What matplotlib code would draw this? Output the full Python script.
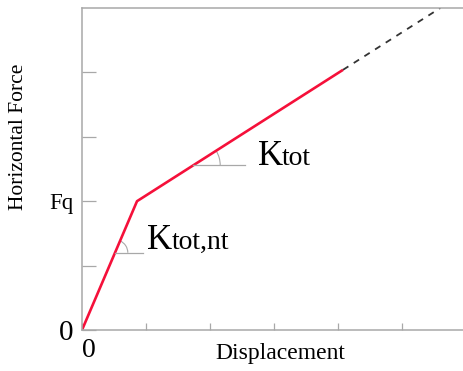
import matplotlib
matplotlib.use("Agg")
import matplotlib.pyplot as plt
from matplotlib.patches import Arc

# bilinear force-displacement curve
disp = [0.0, 0.86, 4.08]
force = [0.0, 2.0, 4.04]
disp_ext = [4.08, 5.6]
force_ext = [4.04, 5.0]

ytick_pos = [0, 1, 2, 3, 4]
ytick_labels = ["0", "", "Fq", "", ""]
xtick_pos = [0, 1, 2, 3, 4, 5]
xtick_labels = ["0", "", "", "", "", ""]

plt.rcParams['font.family'] = ['Liberation Serif', 'DejaVu Serif']

fig = plt.figure(figsize=(4.64, 3.71), dpi=100)
ax = fig.add_axes([0.1767, 0.1105, 0.8233, 0.868])

red = '#f5103a'
grey = '#a8a8a8'

ax.plot(disp, force, color=red, linewidth=1.9, solid_capstyle='butt')
ax.plot(disp_ext, force_ext, color='#333333', linewidth=1.3, linestyle=(0, (3.5, 3.5)))

# angle markers for the two stiffnesses
ax.plot([0.52, 0.95], [1.2, 1.2], color=grey, linewidth=0.9)
ax.add_patch(Arc((0.516, 1.2), 0.4, 0.4, theta1=0, theta2=67, color=grey, linewidth=0.8))
ax.plot([1.74, 2.55], [2.56, 2.56], color=grey, linewidth=0.9)
ax.add_patch(Arc((1.74, 2.56), 0.84, 0.84, theta1=0, theta2=32, color=grey, linewidth=0.8))

ax.text(1.02, 1.26, "K", fontsize=25, ha='left', va='baseline')
ax.annotate("tot,nt", xy=(1.02, 1.26), xytext=(17.5, 0), textcoords='offset points',
            fontsize=20, ha='left', va='baseline')
ax.text(2.75, 2.56, "K", fontsize=25, ha='left', va='baseline')
ax.annotate("tot", xy=(2.75, 2.56), xytext=(17.5, 0), textcoords='offset points',
            fontsize=20, ha='left', va='baseline')

ax.set_xlim(0, 5.97)
ax.set_ylim(0, 5.0)

ax.set_yticks(ytick_pos)
ax.set_yticklabels(ytick_labels)
ax.set_xticks(xtick_pos)
ax.set_xticklabels(xtick_labels)
ax.tick_params(axis='y', direction='in', length=10, width=0.9, color=grey, pad=6)
ax.tick_params(axis='x', direction='in', length=5, width=0.9, color=grey, pad=6)
for lab in ax.get_yticklabels():
    lab.set_fontsize(21 if lab.get_text() == "0" else 16.5)
for lab in ax.get_xticklabels():
    lab.set_fontsize(20)
    lab.set_horizontalalignment('left')

for side in ['left', 'bottom', 'top']:
    ax.spines[side].set_color(grey)
    ax.spines[side].set_linewidth(1.1)
ax.spines['right'].set_visible(False)

ax.set_ylabel("Horizontal Force", fontsize=15.5)
ax.yaxis.set_label_coords(-0.141, 0.60)
ax.set_xlabel("Displacement", fontsize=17)
ax.xaxis.set_label_coords(0.518, -0.04)

fig.savefig("out.png", dpi=100)
